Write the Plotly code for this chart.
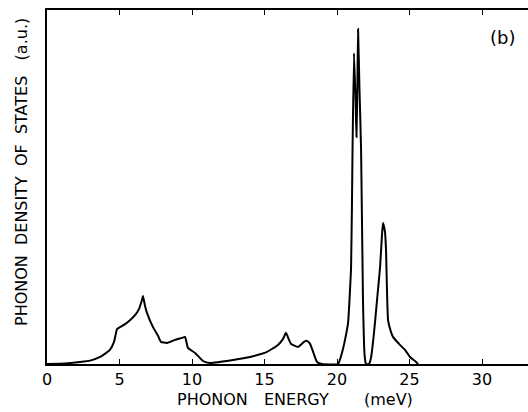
import plotly.graph_objects as go

# Phonon energy (meV) and phonon density of states (arbitrary units, peak = 100)
energy_mev = [0.0, 1.24, 2.28, 2.97, 3.66, 4.34, 4.62, 4.83, 5.03, 5.38, 5.72, 6.07, 6.34, 6.55,
              6.62, 6.76, 6.9, 7.31, 7.66, 7.86, 8.28, 8.83, 9.31, 9.52, 9.72, 10.21, 10.76,
              11.24, 12.83, 14.0, 15.17, 15.93, 16.28, 16.48, 16.69, 16.83, 17.31, 17.72, 17.93,
              18.14, 18.28, 18.62, 18.97, 20.07, 20.34, 20.55, 20.76, 20.97, 21.07, 21.17, 21.28,
              21.34, 21.41, 21.45, 21.55, 21.66, 21.79, 21.9, 22.0, 22.2, 22.34, 22.55, 22.76,
              22.97, 23.1, 23.17, 23.31, 23.38, 23.52, 23.72, 23.86, 24.34, 24.69, 25.03, 25.38,
              25.59]
dos_au = [0.0, 0.15, 0.6, 1.0, 2.1, 4.2, 6.6, 10.4, 11.0, 11.9, 13.1, 14.6, 16.4, 19.1,
          20.3, 17.3, 15.2, 11.0, 8.4, 6.6, 6.3, 7.2, 7.8, 8.1, 4.8, 3.3, 0.9,
          0.3, 1.2, 2.1, 3.6, 5.7, 7.5, 9.3, 7.2, 6.0, 5.1, 6.6, 6.9,
          6.0, 4.5, 0.6, 0.0, 0.0, 3.3, 7.2, 12.2, 29.0, 64.0, 92.8, 78.8,
          67.8, 84.8, 100.0, 81.8, 63.9, 19.1, 2.7, 0.0, 0.0, 1.8, 9.3, 19.1,
          29.0, 38.5, 42.1, 39.4, 34.0, 13.1, 9.6, 8.1, 5.7, 4.2, 2.1, 0.9,
          0.0]
x_ticks = [0, 5, 10, 15, 20, 25, 30]
x_tick_labels = ["0", "5", "10", "15", "20", "25", "30"]
x_title_words = ["PHONON", "ENERGY", "(meV)"]
y_title = "PHONON  DENSITY  OF  STATES   (a.u.)"
panel_label = "(b)"

FONT = "DejaVu Sans"
W, H = 528, 412
ML, MR, MT, MB = 47, 0, 10, 48

fig = go.Figure()
fig.add_trace(go.Scatter(x=energy_mev, y=dos_au, mode="lines",
                         line=dict(color="black", width=2, shape="spline", smoothing=0.4),
                         hoverinfo="skip", showlegend=False))


def px_x(px):
    return (px - ML) / (W - ML - MR)


def px_y(py):
    return (H - MB - py) / (H - MT - MB)


title_font = dict(size=16, family=FONT, color="black")
word_centers = [212, 296, 388]
annotations = [
    dict(text=w, x=px_x(cx), xref="paper", y=px_y(399), yref="paper",
         xanchor="center", yanchor="middle", showarrow=False, font=title_font)
    for w, cx in zip(x_title_words, word_centers)
]
annotations += [
    dict(text=y_title, x=px_x(21), xref="paper", y=px_y(172), yref="paper",
         xanchor="center", yanchor="middle", textangle=-90, showarrow=False,
         font=title_font),
    dict(text=panel_label, x=px_x(502), xref="paper", y=px_y(37), yref="paper",
         xanchor="center", yanchor="middle", showarrow=False,
         font=dict(size=18, family=FONT, color="black")),
]

fig.update_layout(
    width=W, height=H,
    margin=dict(l=ML, r=MR, t=MT, b=MB),
    paper_bgcolor="white", plot_bgcolor="white",
    font=dict(family=FONT, color="black"),
    xaxis=dict(range=[0, 33.17], showgrid=False, zeroline=False,
               showline=True, linecolor="black", linewidth=2,
               mirror="ticks", ticks="inside", ticklen=5, tickwidth=1.2,
               tickcolor="black", tickvals=x_ticks, ticktext=x_tick_labels,
               tickfont=dict(size=16, family=FONT, color="black")),
    yaxis=dict(range=[0, 105.7], showgrid=False, zeroline=False,
               showline=True, linecolor="black", linewidth=2,
               ticks="", showticklabels=False),
    annotations=annotations,
)

fig.write_html("out.html")
